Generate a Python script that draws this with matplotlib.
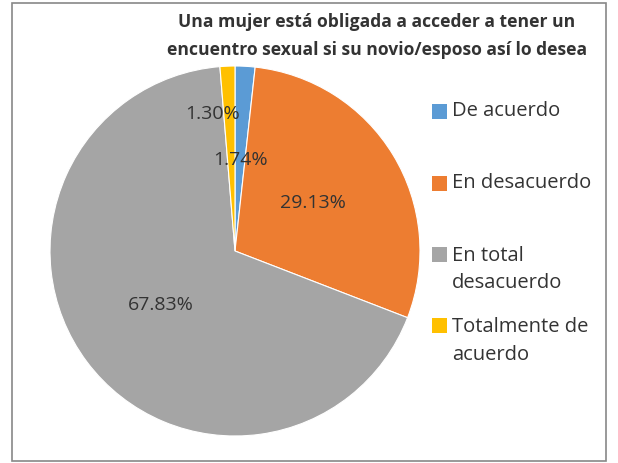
import matplotlib
matplotlib.use("Agg")
import matplotlib.pyplot as plt
from matplotlib.patches import Rectangle

plt.rcParams['font.family'] = ['Open Sans', 'DejaVu Sans']

# datos
categorias = ['De acuerdo', 'En desacuerdo', 'En total\ndesacuerdo', 'Totalmente de\nacuerdo']
valores = [1.74, 29.13, 67.83, 1.30]
colores = ['#5B9BD5', '#ED7D31', '#A5A5A5', '#FFC000']
titulo = 'Una mujer está obligada a acceder a tener un\nencuentro sexual si su novio/esposo así lo desea'

W, H = 618, 463
fig = plt.figure(figsize=(W / 100, H / 100), dpi=100)
fig.patches.append(Rectangle((12 / W, 2 / H), 594 / W, 458 / H, transform=fig.transFigure,
                             fill=False, edgecolor='#888888', linewidth=1.2))

ax = fig.add_axes([50 / W, 27 / H, 370 / W, 370 / H])
wedges, textos = ax.pie(valores, colors=colores, startangle=90, counterclock=False,
                        wedgeprops=dict(edgecolor='white', linewidth=0.8))
ax.set_xlim(-1, 1)
ax.set_ylim(-1, 1)
ax.set_aspect('equal')

# etiquetas de porcentaje (posiciones como en el original)
pos = [(0.03, 0.49), (0.42, 0.26), (-0.40, -0.29), (-0.12, 0.74)]
for v, (x, y) in zip(valores, pos):
    ax.text(x, y, f'{v:.2f}%', ha='center', va='center', fontsize=14, color='#333333')

fig.text(377 / W, 1 - 36 / H, titulo, ha='center', va='center', fontsize=12.6, fontweight='bold',
         color='#333333', linespacing=1.65)

# leyenda
y_cuadro = [111, 183, 254, 325]
y_texto = [111, 183, 269.5, 341]
for cat, col, yc, yt in zip(categorias, colores, y_cuadro, y_texto):
    fig.patches.append(Rectangle((432 / W, 1 - (yc + 8) / H), 15 / W, 15 / H,
                                 transform=fig.transFigure, facecolor=col, edgecolor='none'))
    fig.text(452 / W, 1 - yt / H, cat, ha='left', va='center',
             fontsize=14.5, color='#333333', linespacing=1.5)

fig.savefig('out.png', dpi=100)
